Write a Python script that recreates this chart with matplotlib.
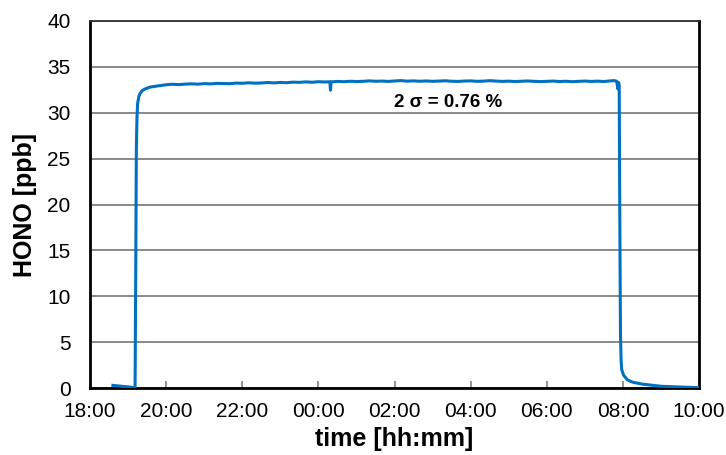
import matplotlib
matplotlib.use("Agg")
import matplotlib.pyplot as plt

# HONO calibration run, times as clock strings (run goes past midnight)
TIMES = [
    "18:36", "18:50", "19:05", "19:11", "19:12", "19:13", "19:14", "19:15",
    "19:17", "19:19", "19:22", "19:27", "19:35", "19:50",
    "20:00", "20:10", "20:20", "20:30", "20:40", "20:50",
    "21:00", "21:10", "21:20", "21:30", "21:40", "21:50",
    "22:00", "22:10", "22:20", "22:30", "22:40", "22:50",
    "23:00", "23:10", "23:20", "23:30", "23:40", "23:50",
    "00:00", "00:10", "00:18", "00:19", "00:20", "00:30", "00:40", "00:50",
    "01:00", "01:10", "01:20", "01:30", "01:40", "01:50",
    "02:00", "02:10", "02:20", "02:30", "02:40", "02:50",
    "03:00", "03:10", "03:20", "03:30", "03:40", "03:50",
    "04:00", "04:10", "04:20", "04:30", "04:40", "04:50",
    "05:00", "05:10", "05:20", "05:30", "05:40", "05:50",
    "06:00", "06:10", "06:20", "06:30", "06:40", "06:50",
    "07:00", "07:10", "07:20", "07:30", "07:40", "07:46", "07:50", "07:52",
    "07:53", "07:54", "07:55", "07:56", "07:57", "07:58", "08:01", "08:07",
    "08:15", "08:30", "09:00", "09:30", "10:00",
]
HONO = [
    0.30, 0.20, 0.10, 0.00, 12.0, 26.0, 29.5, 31.0,
    31.8, 32.1, 32.4, 32.6, 32.8, 32.95,
    33.05, 33.10, 33.06, 33.12, 33.15, 33.11,
    33.17, 33.14, 33.20, 33.18, 33.16, 33.23,
    33.21, 33.26, 33.22, 33.24, 33.29, 33.25,
    33.30, 33.27, 33.33, 33.31, 33.36, 33.32,
    33.38, 33.35, 33.37, 32.45, 33.36, 33.41, 33.38, 33.43,
    33.40, 33.42, 33.47, 33.43, 33.45, 33.41,
    33.46, 33.50, 33.44, 33.47, 33.43, 33.46,
    33.42, 33.45, 33.48, 33.43, 33.41, 33.45,
    33.47, 33.42, 33.44, 33.49, 33.45, 33.41,
    33.44, 33.40, 33.43, 33.46, 33.42, 33.39,
    33.42, 33.45, 33.40, 33.43, 33.38, 33.42,
    33.45, 33.41, 33.44, 33.40, 33.47, 33.50, 33.44, 32.60,
    33.30, 33.00, 18.0, 6.0, 3.0, 2.0, 1.4, 0.9,
    0.65, 0.44, 0.20, 0.12, 0.05,
]
XTICK_LABELS = ["18:00", "20:00", "22:00", "00:00", "02:00",
                "04:00", "06:00", "08:00", "10:00"]
YTICKS = [0, 5, 10, 15, 20, 25, 30, 35, 40]


def hours_since_18(t):
    hh, mm = (int(s) for s in t.split(":"))
    return (hh - 18) % 24 + mm / 60.0


def main():
    plt.rcParams.update({"font.family": "Liberation Sans"})
    fig = plt.figure(figsize=(7.26, 4.55), dpi=100)
    ax = fig.add_axes([0.124, 0.147, 0.839, 0.807])

    x = [hours_since_18(t) for t in TIMES]
    ax.plot(x, HONO, color="#0070C0", lw=2.2, zorder=3)

    ax.set_xlim(0, 16)
    ax.set_ylim(0, 40)
    ax.set_xticks(range(0, 17, 2))
    ax.set_xticklabels(XTICK_LABELS)
    ax.set_yticks(YTICKS)
    ax.yaxis.grid(True, color="#808080", lw=1.3)
    ax.set_axisbelow(True)
    ax.tick_params(axis="x", direction="in", length=5, color="#808080",
                   width=1.2, labelsize=15, pad=10)
    ax.tick_params(axis="y", length=0, labelsize=15, pad=14)

    for s in ("left", "bottom", "right"):
        ax.spines[s].set_linewidth(2.0)
        ax.spines[s].set_color("black")
    ax.spines["top"].set_linewidth(1.3)
    ax.spines["top"].set_color("#303030")

    ax.set_xlabel("time [hh:mm]", fontsize=18, fontweight="bold", labelpad=4)
    ax.set_ylabel("HONO [ppb]", fontsize=18, fontweight="bold", labelpad=7)

    ax.text(9.41, 31.1, "2 \u03c3 = 0.76 %", ha="center", va="center",
            fontsize=13.5, fontweight="bold")

    fig.savefig("out.png", dpi=100)
    plt.close(fig)


if __name__ == "__main__":
    main()
